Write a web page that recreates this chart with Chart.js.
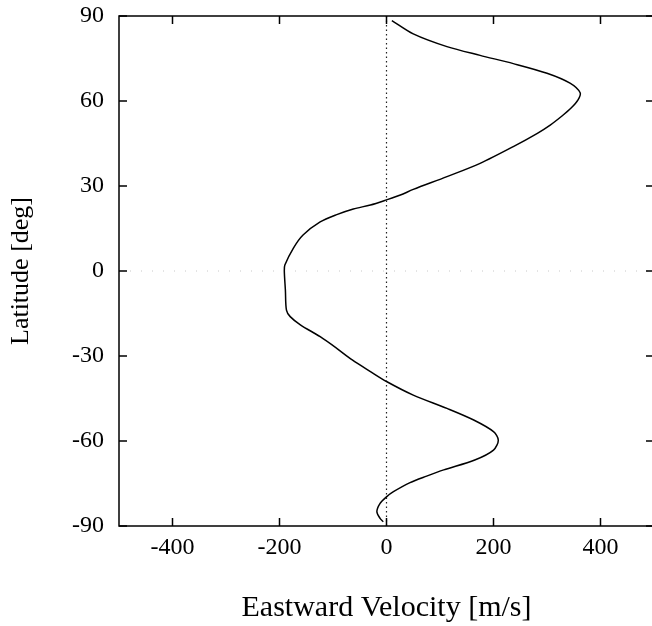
<!DOCTYPE html>
<html>
<head>
<meta charset="utf-8">
<script src="https://cdn.jsdelivr.net/npm/chart.js@4"></script>
<style>
  html, body { margin: 0; padding: 0; background: #fff; overflow: hidden; }
</style>
</head>
<body>
<canvas id="chart" width="656" height="626"></canvas>
<script>
// latitude (deg) and eastward velocity (m/s), north to south
const latitudes = [88.4, 83.7, 79.2, 76.1, 73.2, 69.8, 66.3, 62.9, 60.4, 57.5, 54.7, 51.5, 48.6, 43.9, 38, 33.3, 28.8, 26.8, 25.1, 23.3, 21.9, 19.9, 17.3, 12.7, 8.1, 2.1, 0, -6.7, -13.8, -16.1, -19, -23.2, -27.3, -31.4, -35.5, -39, -43.8, -48.5, -52.6, -56.7, -59.7, -63.2, -66.7, -70.2, -72.4, -74.7, -77.9, -79.7, -82, -85, -87.3, -88.5];
const velocities = [10, 50, 113, 175, 237, 300, 343, 362, 358, 345, 328, 306, 282, 237, 175, 113, 50, 26, 0, -30, -62, -93, -124, -156, -174, -190, -191, -189, -187, -180, -161, -124, -93, -64, -30, 0, 50, 113, 163, 200, 209, 200, 165, 107, 75, 44, 13, 0, -12, -18, -12, -6];

const xTickValues = [-400, -200, 0, 200, 400];
const yTickValues = [-90, -60, -30, 0, 30, 60, 90];

// fonts
const serif = "'Liberation Serif', 'DejaVu Serif', serif";

// gnuplot style frame with inward ticks on all four sides
const framePlugin = {
  id: 'frame',
  afterDatasetsDraw(chart) {
    const ctx = chart.ctx;
    const a = chart.chartArea;
    const xs = chart.scales.x, ys = chart.scales.y;
    const len = 8;
    ctx.save();
    ctx.strokeStyle = '#000';
    ctx.lineWidth = 1.5;
    ctx.strokeRect(a.left, a.top, a.right - a.left, a.bottom - a.top);
    ctx.beginPath();
    xTickValues.forEach(v => {
      const px = xs.getPixelForValue(v);
      ctx.moveTo(px, a.bottom); ctx.lineTo(px, a.bottom - len);
      ctx.moveTo(px, a.top); ctx.lineTo(px, a.top + len);
    });
    yTickValues.forEach(v => {
      const py = ys.getPixelForValue(v);
      ctx.moveTo(a.left, py); ctx.lineTo(a.left + len, py);
      ctx.moveTo(a.right, py); ctx.lineTo(a.right - len, py);
    });
    ctx.stroke();
    ctx.restore();
  }
};

const curve = latitudes.map((lat, i) => ({x: velocities[i], y: lat}));

new Chart(document.getElementById('chart').getContext('2d'), {
  type: 'scatter',
  data: {
    datasets: [
      {
        data: curve,
        showLine: true,
        borderColor: '#000',
        borderWidth: 1.5,
        pointRadius: 0,
        tension: 0.3,
        order: 0
      },
      {
        // zero velocity
        data: [{x: 0, y: -90}, {x: 0, y: 90}],
        showLine: true,
        borderColor: '#222',
        borderWidth: 1.2,
        borderDash: [1.5, 3],
        pointRadius: 0,
        order: 1
      },
      {
        // equator
        data: [{x: -500, y: 0}, {x: 500, y: 0}],
        showLine: true,
        borderColor: '#c8c8c8',
        borderWidth: 1,
        borderDash: [1, 10],
        pointRadius: 0,
        order: 2
      }
    ]
  },
  options: {
    responsive: false,
    animation: false,
    devicePixelRatio: 1,
    layout: { padding: { top: 16, right: 2, left: 0, bottom: 0 } },
    plugins: { legend: { display: false }, tooltip: { enabled: false } },
    scales: {
      x: {
        type: 'linear',
        min: -500,
        max: 500,
        afterBuildTicks: s => { s.ticks = xTickValues.map(v => ({value: v})); },
        afterFit: s => { s.height = 100; s.paddingLeft = 0; s.paddingRight = 0; },
        grid: { display: false, drawTicks: false },
        border: { display: false },
        ticks: { color: '#000', font: { family: serif, size: 24 }, padding: 7, maxRotation: 0 },
        title: {
          display: true,
          text: 'Eastward Velocity [m/s]',
          color: '#000',
          font: { family: serif, size: 30 },
          padding: { top: 0, bottom: 0 }
        }
      },
      y: {
        type: 'linear',
        min: -90,
        max: 90,
        afterBuildTicks: s => { s.ticks = yTickValues.map(v => ({value: v})); },
        afterFit: s => { s.width = 119; s.paddingTop = 0; s.paddingBottom = 0; },
        grid: { display: false, drawTicks: false },
        border: { display: false },
        ticks: { color: '#000', font: { family: serif, size: 24 }, padding: 15 },
        title: {
          display: true,
          text: 'Latitude [deg]',
          color: '#000',
          font: { family: serif, size: 26 },
          padding: { top: 6, bottom: 0 }
        }
      }
    }
  },
  plugins: [framePlugin]
});
</script>
</body>
</html>
